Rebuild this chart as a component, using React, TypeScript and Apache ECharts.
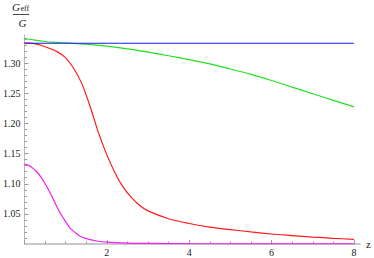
import React, { useEffect, useRef } from "react";
import * as echarts from "echarts";

// ---- data ----
const zBlue = [0, 2, 4, 6, 8];
const vBlue = [1.3333, 1.3333, 1.3333, 1.3333, 1.3333];

const zGreen = [0, 0.25, 0.5, 0.75, 1.0, 1.5, 2.0, 2.5, 3.0, 3.5, 4.0, 4.5, 5.0, 5.5, 6.0, 6.5, 7.0, 7.5, 8.0];
const vGreen = [1.3416, 1.3385, 1.3362, 1.3348, 1.3338, 1.3318, 1.3285, 1.324, 1.3185, 1.3125, 1.306, 1.299, 1.2905, 1.2815, 1.2715, 1.2605, 1.2495, 1.2385, 1.2277];

const zRed = [0, 0.2, 0.4, 0.6, 0.8, 1.0, 1.2, 1.4, 1.6, 1.8, 2.0, 2.2, 2.4, 2.6, 2.8, 3.0, 3.5, 4.0, 4.5, 5.0, 5.5, 6.0, 6.5, 7.0, 7.5, 8.0];
const vRed = [1.334, 1.333, 1.33, 1.325, 1.319, 1.309, 1.291, 1.265, 1.227, 1.184, 1.148, 1.118, 1.094, 1.077, 1.064, 1.055, 1.042, 1.034, 1.028, 1.024, 1.02, 1.0166, 1.014, 1.0115, 1.0095, 1.0078];

const zMagenta = [0, 0.1, 0.2, 0.3, 0.4, 0.5, 0.63, 0.75, 0.87, 1.0, 1.11, 1.25, 1.35, 1.5, 1.75, 2.0, 2.5, 3.0, 4.0, 5.0, 6.0, 8.0];
const vMagenta = [1.1327, 1.1305, 1.126, 1.12, 1.111, 1.1, 1.084, 1.067, 1.051, 1.037, 1.026, 1.018, 1.013, 1.009, 1.005, 1.003, 1.0015, 1.001, 1.0005, 1.0003, 1.0002, 1.0001];

const xMajorTicks = [0, 2, 4, 6, 8];
const xTickLabels = [2, 4, 6, 8];
const xMinorTicks = [0.5, 1, 1.5, 2.5, 3, 3.5, 4.5, 5, 5.5, 6.5, 7, 7.5];
const yTickLabels = [1.05, 1.1, 1.15, 1.2, 1.25, 1.3];
const yMinorTicks = [
  1.01, 1.02, 1.03, 1.04, 1.06, 1.07, 1.08, 1.09, 1.11, 1.12, 1.13, 1.14,
  1.16, 1.17, 1.18, 1.19, 1.21, 1.22, 1.23, 1.24, 1.26, 1.27, 1.28, 1.29,
  1.31, 1.32, 1.33, 1.34,
];

const pairs = (zs: number[], vs: number[]) => zs.map((z, i) => [z, vs[i]]);

const SERIF = "Liberation Serif";
const AXIS_COLOR = "#b8b8b8";
const TICK_COLOR = "#999";
const TEXT_COLOR = "#222";

export default function App() {
  const ref = useRef<HTMLDivElement>(null);
  useEffect(() => {
    if (!ref.current) return;
    const chart = echarts.init(ref.current, undefined, { renderer: "svg" });
    const xRange = { min: 0, max: 8.15 };
    const yRange = { min: 1, max: 1.347 };
    chart.setOption({
      animation: false,
      grid: { left: 24, right: 12, top: 35, bottom: 14, containLabel: false },
      xAxis: [
        {
          type: "value",
          ...xRange,
          axisLine: { show: true, onZero: false, lineStyle: { color: AXIS_COLOR, width: 1.5 } },
          splitLine: { show: false },
          axisTick: { show: true, inside: true, length: 4, customValues: xMajorTicks, lineStyle: { color: TICK_COLOR } },
          axisLabel: { customValues: xTickLabels, margin: 3, fontSize: 10, fontFamily: SERIF, color: TEXT_COLOR },
          name: "z",
          nameLocation: "end",
          nameGap: 6,
          nameTextStyle: { fontFamily: SERIF, fontSize: 11, color: TEXT_COLOR, verticalAlign: "middle" },
        },
        {
          type: "value",
          ...xRange,
          position: "bottom",
          axisLine: { show: false },
          splitLine: { show: false },
          axisTick: { show: true, inside: true, length: 2.5, customValues: xMinorTicks, lineStyle: { color: TICK_COLOR } },
          axisLabel: { show: false },
        },
      ],
      yAxis: [
        {
          type: "value",
          ...yRange,
          axisLine: { show: true, onZero: false, lineStyle: { color: AXIS_COLOR, width: 1 } },
          splitLine: { show: false },
          axisTick: { show: true, inside: true, length: 4, customValues: yTickLabels, lineStyle: { color: TICK_COLOR } },
          axisLabel: {
            customValues: yTickLabels,
            margin: 4,
            fontSize: 10,
            fontFamily: SERIF,
            color: TEXT_COLOR,
            formatter: (v: number) => v.toFixed(2),
          },
        },
        {
          type: "value",
          ...yRange,
          position: "left",
          axisLine: { show: false },
          splitLine: { show: false },
          axisTick: { show: true, inside: true, length: 2.5, customValues: yMinorTicks, lineStyle: { color: TICK_COLOR } },
          axisLabel: { show: false },
        },
      ],
      series: [
        { type: "line", data: pairs(zMagenta, vMagenta), smooth: 0.3, showSymbol: false, lineStyle: { color: "#f020f0", width: 1.2 } },
        { type: "line", data: pairs(zRed, vRed), smooth: 0.3, showSymbol: false, lineStyle: { color: "#ff1a1a", width: 1.2 } },
        { type: "line", data: pairs(zGreen, vGreen), smooth: 0.3, showSymbol: false, lineStyle: { color: "#22e022", width: 1.2 } },
        { type: "line", data: pairs(zBlue, vBlue), showSymbol: false, lineStyle: { color: "#1a1aff", width: 1.2 } },
      ],
      graphic: [
        { type: "text", x: 12, y: 1, z: 10, style: { text: "G", fontFamily: SERIF, fontStyle: "italic", fontSize: 11, fill: TEXT_COLOR, verticalAlign: "top", align: "left" } },
        { type: "text", x: 20.5, y: 4.5, z: 10, style: { text: "eff", fontFamily: SERIF, fontSize: 8, fill: TEXT_COLOR, verticalAlign: "top", align: "left" } },
        { type: "rect", z: 10, shape: { x: 13, y: 14, width: 16, height: 0.9 }, style: { fill: "#333" } },
        { type: "text", x: 18.5, y: 17.5, z: 10, style: { text: "G", fontFamily: SERIF, fontStyle: "italic", fontSize: 11, fill: TEXT_COLOR, verticalAlign: "top", align: "left" } },
      ],
    });
    return () => chart.dispose();
  }, []);
  return <div ref={ref} style={{ width: 374, height: 258, position: "absolute", left: 0, top: 0 }} />;
}
